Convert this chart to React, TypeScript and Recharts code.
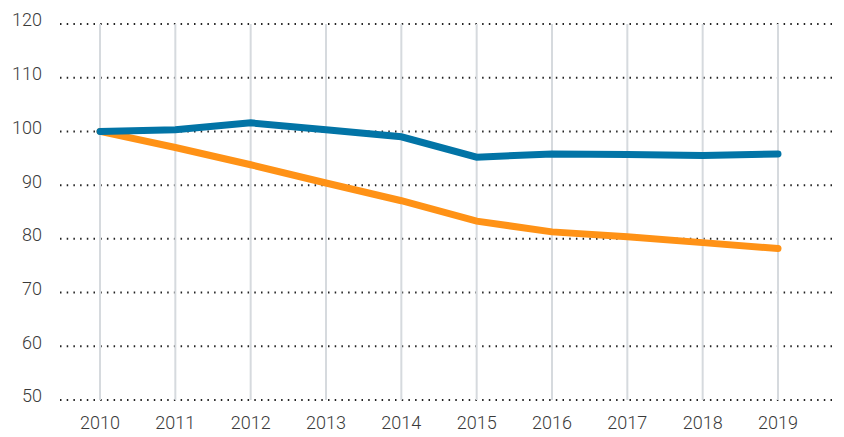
import { LineChart, Line, XAxis, YAxis, CartesianGrid, ReferenceLine } from 'recharts'

const years = ['2010', '2011', '2012', '2013', '2014', '2015', '2016', '2017', '2018', '2019']
const blueValues = [100, 100.3, 101.6, 100.3, 99, 95.2, 95.8, 95.7, 95.5, 95.8]
const orangeValues = [100, 97, 93.8, 90.4, 87.1, 83.3, 81.3, 80.4, 79.3, 78.2]
const yTicks = [50, 60, 70, 80, 90, 100, 110, 120]

const data = years.map((y, i) => ({ year: y, blue: blueValues[i], orange: orangeValues[i] }))

const tickStyle = { fontSize: 18, fill: '#3a3a3a', fontFamily: 'Roboto, sans-serif', fontWeight: 300 }

export default function App() {
  return (
    <div style={{ position: 'absolute', left: 0, top: 0, background: '#fff' }}>
      <LineChart width={844} height={437} data={data} margin={{ top: 24, right: 10, bottom: 0, left: 0 }}>
        <CartesianGrid vertical={false} horizontal={true} stroke="#222" strokeWidth={2} strokeDasharray="1.5 5.2" />
        {years.map((y) => (
          <ReferenceLine key={y} x={y} stroke="#d6dade" strokeWidth={2} />
        ))}
        <XAxis
          dataKey="year"
          padding={{ left: 40, right: 56 }}
          axisLine={false}
          tickLine={false}
          tick={tickStyle}
          tickMargin={10}
          height={37}
        />
        <YAxis
          domain={[50, 120]}
          ticks={yTicks}
          axisLine={false}
          tickLine={false}
          tick={{ ...tickStyle, dy: -4 }}
          tickMargin={12}
          width={60}
        />
        <Line type="linear" dataKey="orange" stroke="#ff9216" strokeWidth={7} dot={false} strokeLinecap="round" isAnimationActive={false} />
        <Line type="linear" dataKey="blue" stroke="#0274a6" strokeWidth={7} dot={false} strokeLinecap="round" isAnimationActive={false} />
      </LineChart>
    </div>
  )
}
